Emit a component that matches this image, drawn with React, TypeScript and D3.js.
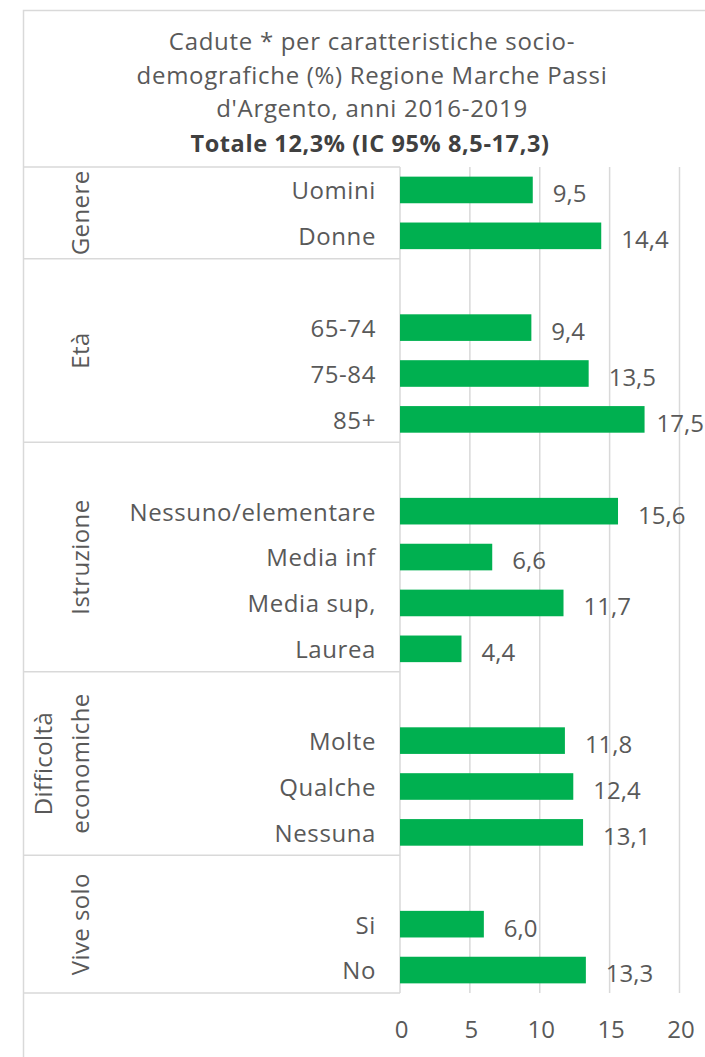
import React from "react";
import * as d3 from "d3";

const categories = ["Uomini", "Donne", "", "65-74", "75-84", "85+", "", "Nessuno/elementare", "Media inf", "Media sup,", "Laurea", "", "Molte", "Qualche", "Nessuna", "", "Si", "No"];
const values: (number | null)[] = [9.5, 14.4, null, 9.4, 13.5, 17.5, null, 15.6, 6.6, 11.7, 4.4, null, 11.8, 12.4, 13.1, null, 6.0, 13.3];
const groupOfRow = [0, 0, 1, 1, 1, 1, 2, 2, 2, 2, 2, 3, 3, 3, 3, 4, 4, 4];
const groupLabels = [["Genere"], ["Età"], ["Istruzione"], ["Difficoltà", "economiche"], ["Vive solo"]];
const xTicks = [0, 5, 10, 15, 20];
const titleLines = ["Cadute * per caratteristiche socio-", "demografiche (%) Regione Marche Passi", "d'Argento, anni 2016-2019"];
const titleBold = "Totale 12,3% (IC 95% 8,5-17,3)";

const W = 705;
const H = 1057;
const FONT = "'Open Sans', sans-serif";
const TXT = "#595959";
const GRID = "#d9d9d9";
const GREEN = "#00b050";

export default function App() {
  const x = d3.scaleLinear().domain([0, 20]).range([400, 679.5]);
  const idx = categories.map((_, i) => String(i));
  const y = d3.scaleBand().domain(idx).range([167, 993]).paddingInner(0.42).paddingOuter(0.21);
  const step = y.step();
  const rowTop = (i: number) => 167 + i * step;
  const fmt = (v: number) => d3.format(".1f")(v).replace(".", ",");

  const groupIdx = Array.from(new Set(groupOfRow));
  const groupExt = groupIdx.map((g) => {
    const rows = groupOfRow.map((gg, i) => (gg === g ? i : -1)).filter((i) => i >= 0);
    return { g, y0: rowTop(d3.min(rows)!), y1: rowTop(d3.max(rows)! + 1) };
  });

  return (
    <svg width={W} height={H} style={{ position: "absolute", left: 0, top: 0, background: "#fff" }} fontFamily={FONT}>
      <rect x={0} y={0} width={W} height={H} fill="#fff" />
      <rect x={23.5} y={10.5} width={W + 20} height={H + 20} fill="none" stroke={GRID} strokeWidth={1.5} />

      {titleLines.map((t, i) => (
        <text key={i} x={372} y={42 + i * 33.5} dy="0.35em" textAnchor="middle" fontSize={24} letterSpacing={0.7} fill={TXT}>
          {t}
        </text>
      ))}
      <text x={370} y={144} dy="0.35em" textAnchor="middle" fontSize={23.5} letterSpacing={0.6} fontWeight="bold" fill="#404040">
        {titleBold}
      </text>

      {xTicks.map((t) => (
        <line key={t} x1={x(t)} x2={x(t)} y1={167} y2={993} stroke={GRID} strokeWidth={1.5} />
      ))}

      <line x1={23.5} x2={x(0)} y1={167} y2={167} stroke={GRID} strokeWidth={1.5} />
      {groupExt.map((ge) => (
        <line key={ge.g} x1={23.5} x2={x(0)} y1={ge.y1} y2={ge.y1} stroke={GRID} strokeWidth={1.5} />
      ))}

      {groupExt.map((ge) => {
        const lines = groupLabels[ge.g];
        const cy = (ge.y0 + ge.y1) / 2;
        return lines.map((l, k) => {
          const cx = 81 - (lines.length - 1 - k) * 37;
          return (
            <text key={`${ge.g}-${k}`} transform={`translate(${cx},${cy}) rotate(-90)`} dy="0.35em" textAnchor="middle" fontSize={24} letterSpacing={0.4} fill={TXT}>
              {l}
            </text>
          );
        });
      })}

      {categories.map((c, i) =>
        c ? (
          <text key={i} x={376} y={y(String(i))! + y.bandwidth() / 2 + 1} dy="0.35em" textAnchor="end" fontSize={24} letterSpacing={0.6} fill={TXT}>
            {c}
          </text>
        ) : null
      )}

      {values.map((v, i) =>
        v == null ? null : (
          <rect key={i} x={x(0)} y={y(String(i))} width={x(v) - x(0)} height={y.bandwidth()} fill={GREEN} />
        )
      )}

      {values.map((v, i) => {
        if (v == null) return null;
        const s = fmt(v);
        const estW = s.length * 12.5;
        let lx = x(v) + 20;
        let anchor: "start" | "end" = "start";
        if (lx + estW > W - 1) {
          lx = W - 1;
          anchor = "end";
        }
        return (
          <text key={i} x={lx} y={y(String(i))! + y.bandwidth() / 2 + 4} dy="0.35em" textAnchor={anchor} fontSize={24} fill={TXT}>
            {s}
          </text>
        );
      })}

      {xTicks.map((t) => (
        <text key={t} x={x(t) + 1.5} y={1030} dy="0.35em" textAnchor="middle" fontSize={24} fill={TXT}>
          {t}
        </text>
      ))}
    </svg>
  );
}
